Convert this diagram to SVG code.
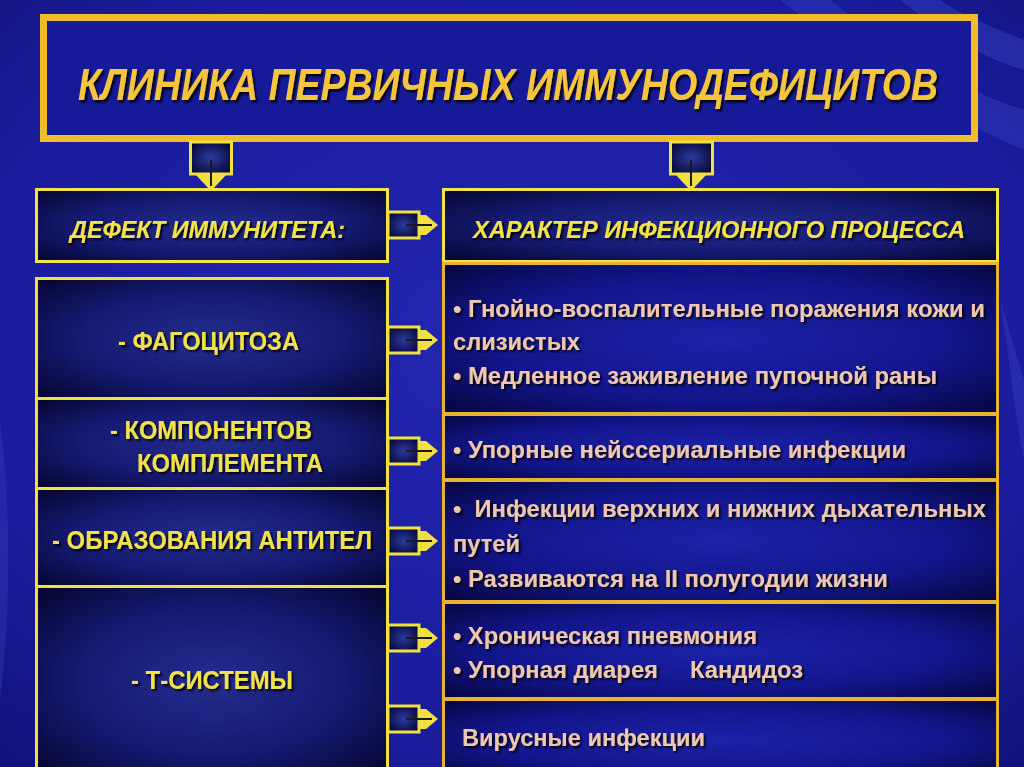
<svg xmlns="http://www.w3.org/2000/svg" width="1024" height="767" viewBox="0 0 1024 767">
<defs>
<radialGradient id="bg" cx="0.5" cy="0.45" r="0.75">
<stop offset="0" stop-color="#2226b0"/>
<stop offset="0.7" stop-color="#1a1c9c"/>
<stop offset="1" stop-color="#10127a"/>
</radialGradient>
<radialGradient id="boxL" cx="0.5" cy="0.5" r="0.7">
<stop offset="0" stop-color="#232c8e"/>
<stop offset="0.55" stop-color="#151a72"/>
<stop offset="1" stop-color="#05052e"/>
</radialGradient>
<radialGradient id="boxR" cx="0.5" cy="0.5" r="0.7">
<stop offset="0" stop-color="#1c22a8"/>
<stop offset="0.6" stop-color="#12158a"/>
<stop offset="1" stop-color="#06063e"/>
</radialGradient>
<radialGradient id="boxA" cx="0.5" cy="0.5" r="0.6">
<stop offset="0" stop-color="#2b3aa0"/>
<stop offset="1" stop-color="#080838"/>
</radialGradient>
<filter id="sh" x="-10%" y="-40%" width="120%" height="180%">
<feDropShadow dx="2" dy="2" stdDeviation="0.8" flood-color="#000" flood-opacity="0.9"/>
</filter>
</defs>
<style>
.bl{fill:url(#boxL);stroke:#f0e040;stroke-width:3}
.bh{fill:url(#boxL);stroke:#f2e448;stroke-width:3}
.br{fill:url(#boxR);stroke:#e8b232;stroke-width:3}
.ar{fill:url(#boxA);stroke:#f0e040;stroke-width:3}
.ah{fill:#f0e040}
.st{stroke:#1a1a1a;stroke-width:2}
.t{font-family:"Liberation Sans",Arial,sans-serif;font-weight:bold;filter:url(#sh)}
.ti{font-style:italic}
.y{fill:#f2e24a}
.g{fill:#f5c53c}
.p{fill:#efc7ae;font-size:24px}
</style>
<rect width="1024" height="767" fill="url(#bg)"/>
<path d="M780,0 C860,60 950,120 1024,150 L1024,110 C960,90 880,40 830,0 Z" fill="#3b48c8" opacity="0.35"/>
<path d="M900,0 C950,40 990,60 1024,70 L1024,40 C1000,30 960,15 940,0 Z" fill="#4a58d8" opacity="0.3"/>
<path d="M1000,300 C1010,360 1015,420 1024,460 L1024,380 Z" fill="#3b48c8" opacity="0.35"/>
<path d="M0,420 C10,500 12,600 0,700 L0,420 Z" fill="#3b48c8" opacity="0.3"/>

<g id="title">
<rect x="43.5" y="17.5" width="931" height="121" fill="#171a98" stroke="#f0bc2a" stroke-width="7"/>
<text class="t ti g" transform="translate(78,100) scale(1,1.28)" x="0" y="0" font-size="35" textLength="860" lengthAdjust="spacingAndGlyphs">КЛИНИКА ПЕРВИЧНЫХ ИММУНОДЕФИЦИТОВ</text>
</g>

<g id="defect">
<rect class="bh" x="36.5" y="189.5" width="351" height="72"/>
<text class="t ti y" x="70" y="238" font-size="24" textLength="275" lengthAdjust="spacingAndGlyphs">ДЕФЕКТ ИММУНИТЕТА:</text>
</g>
<g id="phago">
<rect class="bl" x="36.5" y="278.5" width="351" height="120"/>
<text class="t y" x="118" y="350" font-size="25" textLength="181" lengthAdjust="spacingAndGlyphs">- ФАГОЦИТОЗА</text>
</g>
<g id="complement">
<rect class="bl" x="36.5" y="398.5" width="351" height="90"/>
<text class="t y" x="110" y="439" font-size="25" textLength="202" lengthAdjust="spacingAndGlyphs">- КОМПОНЕНТОВ</text>
<text class="t y" x="137" y="472" font-size="25" textLength="186" lengthAdjust="spacingAndGlyphs">КОМПЛЕМЕНТА</text>
</g>
<g id="antibodies">
<rect class="bl" x="36.5" y="488.5" width="351" height="98"/>
<text class="t y" x="52" y="549" font-size="25" textLength="320" lengthAdjust="spacingAndGlyphs">- ОБРАЗОВАНИЯ АНТИТЕЛ</text>
</g>
<g id="tsystem">
<rect class="bl" x="36.5" y="586.5" width="351" height="190"/>
<text class="t y" x="131" y="689" font-size="25" textLength="162" lengthAdjust="spacingAndGlyphs">- Т-СИСТЕМЫ</text>
</g>

<g id="header">
<rect class="bh" x="443.5" y="189.5" width="554" height="72"/>
<text class="t ti y" x="473" y="238" font-size="24" textLength="492" lengthAdjust="spacingAndGlyphs">ХАРАКТЕР ИНФЕКЦИОННОГО ПРОЦЕССА</text>
</g>
<g id="r1">
<rect class="br" x="443.5" y="263.5" width="554" height="150"/>
<text class="t p" x="453" y="317" textLength="532" lengthAdjust="spacingAndGlyphs">• Гнойно-воспалительные поражения кожи и</text>
<text class="t p" x="453" y="350" textLength="127" lengthAdjust="spacingAndGlyphs">слизистых</text>
<text class="t p" x="453" y="384" textLength="484" lengthAdjust="spacingAndGlyphs">• Медленное заживление пупочной раны</text>
</g>
<g id="r2">
<rect class="br" x="443.5" y="414.5" width="554" height="65"/>
<text class="t p" x="453" y="458" textLength="453" lengthAdjust="spacingAndGlyphs">• Упорные нейссериальные инфекции</text>
</g>
<g id="r3">
<rect class="br" x="443.5" y="480.5" width="554" height="121"/>
<text class="t p" x="453" y="517" textLength="533" lengthAdjust="spacingAndGlyphs" xml:space="preserve">•  Инфекции верхних и нижних дыхательных</text>
<text class="t p" x="453" y="552" textLength="67" lengthAdjust="spacingAndGlyphs">путей</text>
<text class="t p" x="453" y="587" textLength="435" lengthAdjust="spacingAndGlyphs">• Развиваются на II полугодии жизни</text>
</g>
<g id="r4">
<rect class="br" x="443.5" y="602.5" width="554" height="96"/>
<text class="t p" x="453" y="644" textLength="304" lengthAdjust="spacingAndGlyphs">• Хроническая пневмония</text>
<text class="t p" x="453" y="678" textLength="205" lengthAdjust="spacingAndGlyphs">• Упорная диарея</text>
<text class="t p" x="690" y="678" textLength="113" lengthAdjust="spacingAndGlyphs">Кандидоз</text>
</g>
<g id="r5">
<rect class="br" x="443.5" y="699.5" width="554" height="80"/>
<text class="t p" x="462" y="746" textLength="243" lengthAdjust="spacingAndGlyphs">Вирусные инфекции</text>
</g>

<g id="connectors">
<g>
<rect class="ar" x="190.5" y="142" width="41" height="32"/>
<polygon class="ah" points="195,174 227,174 211,191"/>
<line class="st" x1="211" y1="160" x2="211" y2="186"/>
</g>
<g>
<rect class="ar" x="670.5" y="142" width="42" height="32"/>
<polygon class="ah" points="675,174 707,174 691,191"/>
<line class="st" x1="691" y1="160" x2="691" y2="186"/>
</g>
<g transform="translate(0,225)">
<rect class="ar" x="388" y="-13" width="31" height="26"/>
<polygon class="ah" points="419,-10 426,-10 438,0 426,10 419,10"/>
<line class="st" x1="406" y1="0" x2="432" y2="0"/>
</g>
<g transform="translate(0,340)">
<rect class="ar" x="388" y="-13" width="31" height="26"/>
<polygon class="ah" points="419,-10 426,-10 438,0 426,10 419,10"/>
<line class="st" x1="406" y1="0" x2="432" y2="0"/>
</g>
<g transform="translate(0,451)">
<rect class="ar" x="388" y="-13" width="31" height="26"/>
<polygon class="ah" points="419,-10 426,-10 438,0 426,10 419,10"/>
<line class="st" x1="406" y1="0" x2="432" y2="0"/>
</g>
<g transform="translate(0,541)">
<rect class="ar" x="388" y="-13" width="31" height="26"/>
<polygon class="ah" points="419,-10 426,-10 438,0 426,10 419,10"/>
<line class="st" x1="406" y1="0" x2="432" y2="0"/>
</g>
<g transform="translate(0,638)">
<rect class="ar" x="388" y="-13" width="31" height="26"/>
<polygon class="ah" points="419,-10 426,-10 438,0 426,10 419,10"/>
<line class="st" x1="406" y1="0" x2="432" y2="0"/>
</g>
<g transform="translate(0,719)">
<rect class="ar" x="388" y="-13" width="31" height="26"/>
<polygon class="ah" points="419,-10 426,-10 438,0 426,10 419,10"/>
<line class="st" x1="406" y1="0" x2="432" y2="0"/>
</g>
</g>
</svg>
